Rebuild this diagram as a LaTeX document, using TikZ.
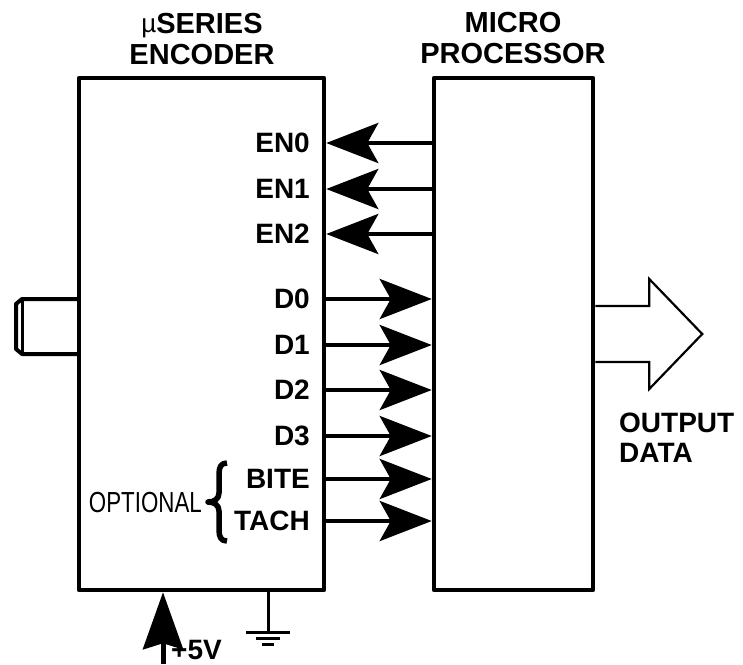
\documentclass[tikz,border=0pt]{standalone}
\usepackage{fontspec}
\setmainfont{Liberation Sans}
\usetikzlibrary{arrows.meta,calc}

\tikzset{
  box/.style={draw,line width=4.5pt,line join=round,inner sep=0pt},
  title/.style={font=\fontsize{29pt}{31pt}\selectfont\bfseries,align=center,inner sep=0pt},
  sig/.style={font=\fontsize{28pt}{30pt}\selectfont\bfseries,inner sep=0pt},
  bus/.style={line width=4.5pt,-{Stealth[length=52pt,width=40pt,inset=11pt]}},
}

\begin{document}
\begin{tikzpicture}[x=1pt,y=-1pt]
  \useasboundingbox (0,0) rectangle (743,664);

  %% the two blocks
  \node [box,minimum width=245pt,minimum height=512pt] (enc) at (201.5,334) {};
  \node [box,minimum width=159pt,minimum height=512pt] (mp) at (513.5,334) {};

  \node [title] (enctitle) at (202,39)
    {\raisebox{1pt}{\fontsize{26pt}{26pt}\selectfont\mdseries µ}SERIES\\ENCODER};
  \node [title] (mptitle) at (513,38) {MICRO\\PROCESSOR};

  %% enable lines, processor to encoder
  \foreach \name/\y in {EN0/143,EN1/189,EN2/234}{
    \node [sig,anchor=east] (\name) at (310,\y) {\name};
    \draw [bus] (mp.west |- \name) -- (enc.east |- \name);
  }
  %% data lines, encoder to processor
  \foreach \name/\y in {D0/299,D1/345,D2/390,D3/436,BITE/479,TACH/521}{
    \node [sig,anchor=east] (\name) at (310,\y) {\name};
    \draw [bus] (enc.east |- \name) -- (mp.west |- \name);
  }

  \node [anchor=east,inner sep=0pt,font=\fontsize{29pt}{29pt}\selectfont] (opt) at (202,503)
    {\scalebox{0.77}[1]{OPTIONAL}};
  %% the brace
  \draw [line width=5.5pt,line join=round] (227,463) .. controls (221,463) and (219,467) .. (219,474) -- (219,493)
    .. controls (219,499) and (214,502) .. (208,502) .. controls (214,502) and (219,505) .. (219,511)
    -- (219,530) .. controls (219,537) and (221,541) .. (227,541);

  %% shaft
  \draw [line width=4pt,line join=round] (79,299) -- (22,299) -- (16,304) -- (16,349) -- (22,354) -- (79,354);
  \draw [line width=3pt] (22,299) -- (22,354);

  %% output data
  \draw [line width=2.2pt] ($(mp.east)+(0,-28)$) -- ++(54,0) -- ++(0,-27)
    -- ++(53,55) -- ++(-53,55) -- ++(0,-27) -- ++(-54,0);
  \node [sig,anchor=west,align=left] (outlbl) at (619,438) {OUTPUT\\DATA};

  %% supply and ground
  \coordinate (vcc) at (163,664);
  \draw [line width=5pt,-{Stealth[length=57pt,width=40pt,inset=6pt]}] (vcc) -- (enc.south -| vcc);
  \node [sig,anchor=base west] (vcclbl) at (171,659) {+5V};

  \coordinate (gnd) at (268,632);
  \draw [line width=3pt] (enc.south -| gnd) -- (gnd);
  \draw [line width=3pt] ($(gnd)+(-22,0)$) -- ++(44,0)
    ($(gnd)+(-12,6)$) -- ++(24,0)
    ($(gnd)+(-6,12)$) -- ++(12,0);
\end{tikzpicture}
\end{document}
